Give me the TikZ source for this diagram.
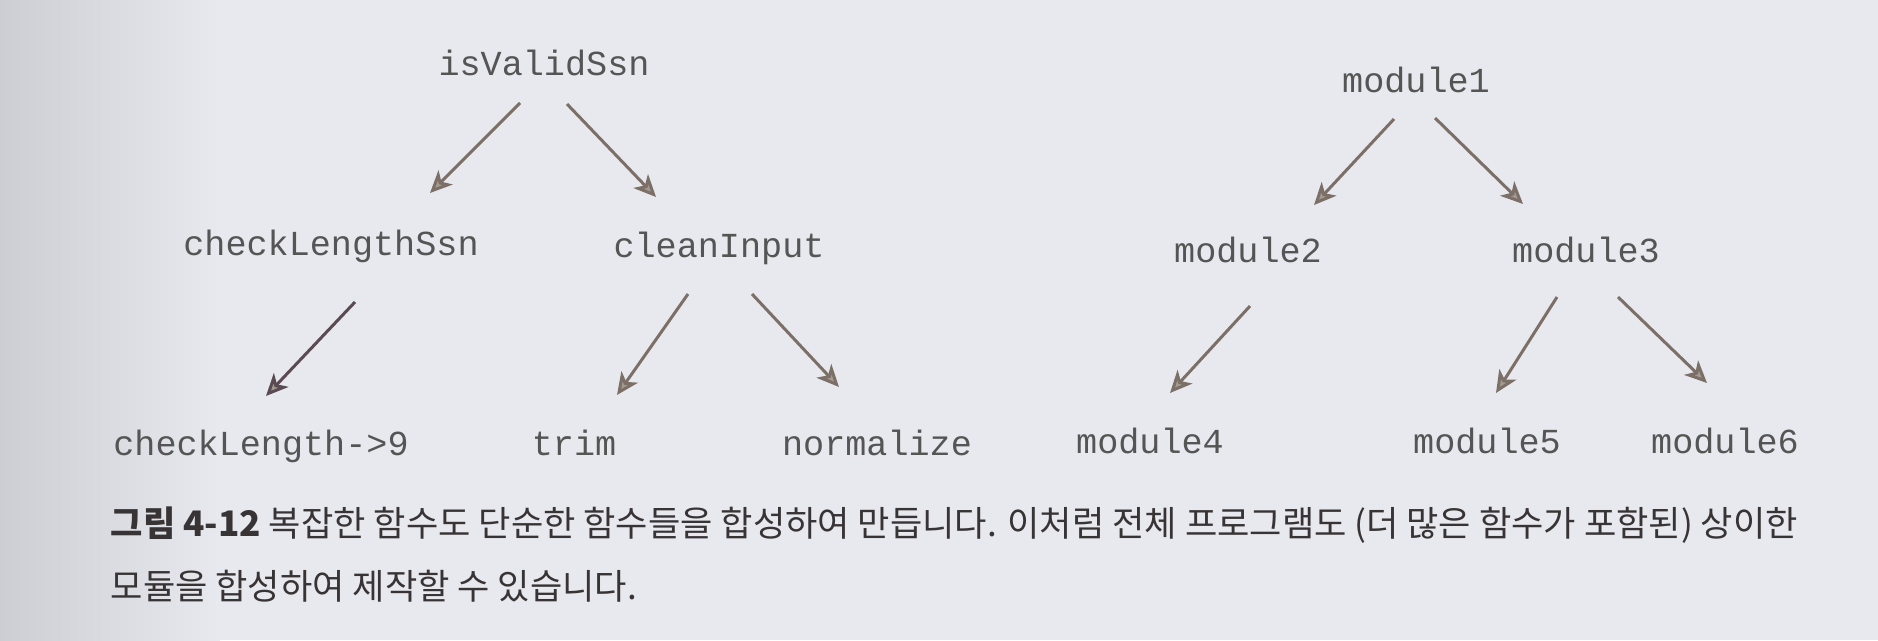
\documentclass[tikz,border=0pt]{standalone}
\usepackage{fontspec}
\setmonofont{Liberation Mono}
\newfontfamily\cjk{Noto Sans CJK KR}
\usetikzlibrary{arrows.meta,positioning,calc}
\definecolor{paper}{HTML}{E8E9EE}
\definecolor{paperedge}{HTML}{CDCED3}
\definecolor{labelgray}{HTML}{555555}
\definecolor{arrowgray}{HTML}{7B6F67}
\definecolor{arrowfill}{HTML}{A39A90}
\definecolor{arrowdark}{HTML}{5A4A52}
\definecolor{captext}{HTML}{383435}

\begin{document}
\begin{tikzpicture}[
  x=0.1mm, y=-0.1mm,
  fn/.style={font=\ttfamily\fontsize{10}{12}\selectfont, text=labelgray, inner sep=0pt, anchor=base},
  caption/.style={font=\cjk\fontsize{10}{12}\selectfont, text=captext, inner sep=0pt, anchor=base west},
  line/.style={draw=arrowgray, line width=0.85pt,
    -{Stealth[length=2.2mm, width=2mm, inset=0.6mm, fill=arrowfill]}}
]
% page
\fill[paper] (0,0) rectangle (1878,640);
\shade[left color=paperedge, right color=paper, draw=none] (0,0) rectangle (220,640);
\useasboundingbox (0,0) rectangle (1878,640);

% left tree
\node[fn] (isvalid) at (544,75) {isValidSsn};
\node[fn] (checkssn) at (331,255) {checkLengthSsn};
\node[fn] (clean) at (719,257) {cleanInput};
\node[fn] (checknine) at (261,455) {checkLength->9};
\node[fn] (trim) at (574,455) {trim};
\node[fn] (normalize) at (877,455) {normalize};

% right tree
\node[fn] (modone) at (1416,92) {module1};
\node[fn] (modtwo) at (1248,262) {module2};
\node[fn] (modthree) at (1586,262) {module3};
\node[fn] (modfour) at (1150,453) {module4};
\node[fn] (modfive) at (1487,453) {module5};
\node[fn] (modsix) at (1725,453) {module6};

\path[line] ($(isvalid.base)+(-24,28)$) -- ($(checkssn.base)+(99,-62)$);
\path[line] ($(isvalid.base)+(23,29)$) -- ($(clean.base)+(-63,-60)$);
\path[line, draw=arrowdark] ($(checkssn.base)+(24,47)$) -- ($(checknine.base)+(5,-59)$);
\path[line] ($(clean.base)+(-31,37)$) -- ($(trim.base)+(43,-60)$);
\path[line] ($(clean.base)+(33,37)$) -- ($(normalize.base)+(-38,-68)$);

\path[line] ($(modone.base)+(-22,27)$) -- ($(modtwo.base)+(66,-57)$);
\path[line] ($(modone.base)+(19,26)$) -- ($(modthree.base)+(-63,-58)$);
\path[line] ($(modtwo.base)+(2,44)$) -- ($(modfour.base)+(20,-60)$);
\path[line] ($(modthree.base)+(-29,35)$) -- ($(modfive.base)+(9,-60)$);
\path[line] ($(modthree.base)+(32,35)$) -- ($(modsix.base)+(-18,-70)$);

% caption
\node[caption] (capone) at (110,536) {\textbf{그림 4-12} 복잡한 함수도 단순한 함수들을 합성하여 만듭니다. 이처럼 전체 프로그램도 (더 많은 함수가 포함된) 상이한};
\node[caption] (captwo) at (110,599) {모듈을 합성하여 제작할 수 있습니다.};

\end{tikzpicture}
\end{document}
